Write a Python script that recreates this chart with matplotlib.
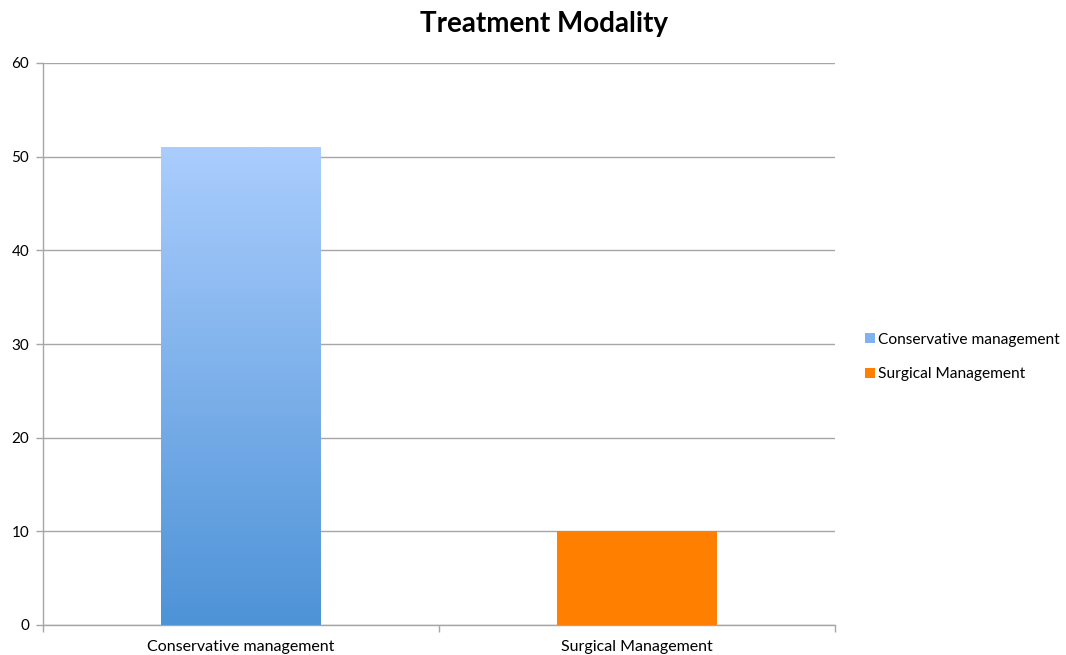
import matplotlib
matplotlib.use('Agg')
import matplotlib.pyplot as plt
import numpy as np
from matplotlib.colors import LinearSegmentedColormap
from matplotlib.patches import Patch

plt.rcParams['font.family'] = ['Lato', 'DejaVu Sans']

categories = ['Conservative management', 'Surgical Management']
values = [51, 10]
yticks = [0, 10, 20, 30, 40, 50, 60]

blue_top, blue_bottom = '#AACDFD', '#4E93D7'
orange = '#FF7F00'
grid_c = '#A6A6A6'

fig = plt.figure(figsize=(10.66, 6.55), dpi=100)
ax = fig.add_axes([43/1066, 1 - 625/655, (835-43)/1066, (625-63)/655])

x = np.arange(len(categories))
w = 0.404
bars = ax.bar(x, values, w, color=['none', orange], zorder=3)

# vertical gradient fill for the first bar, clipped to its rectangle
cmap = LinearSegmentedColormap.from_list('grad', [blue_bottom, blue_top])
b0 = bars[0]
grad = np.linspace(0, 1, 256).reshape(-1, 1)
im = ax.imshow(grad, cmap=cmap, aspect='auto', origin='lower',
               extent=[b0.get_x(), b0.get_x() + w, 0, values[0]], zorder=3)
im.set_clip_path(b0)

ax.set_xlim(-0.5, len(categories) - 0.5)
ax.set_ylim(0, 60)
ax.set_yticks(yticks)
ax.set_yticklabels([str(t) for t in yticks], fontsize=11)
ax.set_xticks(np.arange(-0.5, len(categories)), minor=False)
ax.set_xticklabels([])
ax.set_xticks(x, minor=True)
ax.set_xticklabels(categories, minor=True, fontsize=11.5)
ax.tick_params(axis='x', which='minor', length=0, pad=11)
ax.tick_params(axis='x', which='major', length=5, color=grid_c, width=1)
ax.tick_params(axis='y', length=5, color=grid_c, width=1, pad=5)

ax.grid(True, axis='y', color=grid_c, linewidth=1, zorder=0)
ax.set_axisbelow(True)
for s in ['top', 'right']:
    ax.spines[s].set_visible(False)
for s in ['left', 'bottom']:
    ax.spines[s].set_color(grid_c)
    ax.spines[s].set_linewidth(1)

fig.text(544/1066, 1 - 24/655, 'Treatment Modality', ha='center', va='center',
         fontsize=20, fontweight='bold')

handles = [Patch(facecolor='#7FB2EE', label=categories[0]),
           Patch(facecolor=orange, label=categories[1])]
fig.legend(handles=handles, loc='center left', bbox_to_anchor=(859/1066, 1 - 357/655),
           frameon=False, fontsize=11.2, handlelength=0.6, handleheight=0.6,
           handletextpad=0.2, labelspacing=1.3, borderaxespad=0)

fig.savefig('out.png', dpi=100)
